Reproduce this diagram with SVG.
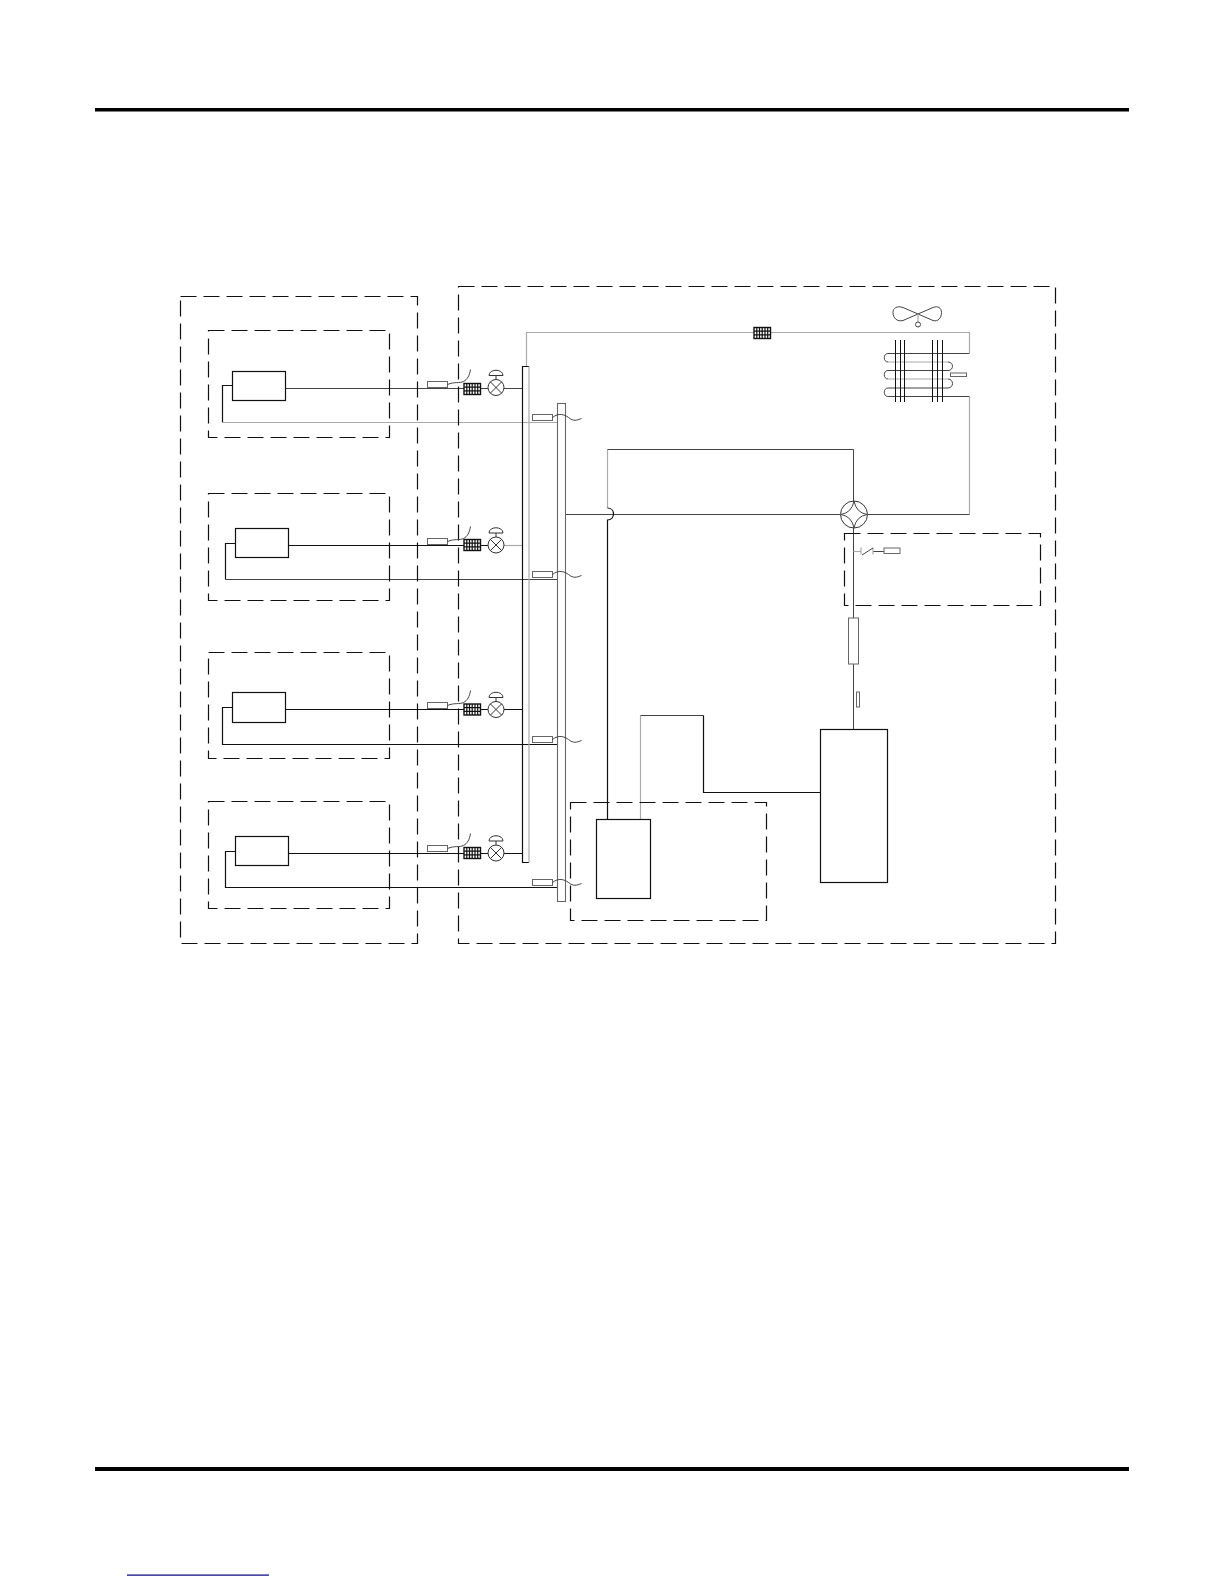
<svg xmlns="http://www.w3.org/2000/svg" width="1224" height="1584" viewBox="0 0 1224 1584">
<style>
.d{fill:none;stroke:#111;stroke-width:1.2;stroke-dasharray:16 7}
.b{fill:#fff;stroke:#111;stroke-width:1.2}
.l{fill:none;stroke:#444;stroke-width:1}
.k{fill:none;stroke:#111;stroke-width:1.2}
.g{fill:none;stroke:#aaa;stroke-width:1.2}
.s{fill:#fff;stroke:#666;stroke-width:1}
.f{fill:#fff;stroke:#111;stroke-width:1.4}
</style>
<defs>
<g id="filter">
<rect class="f" x="0" y="0" width="16.500" height="11"/>
<path d="M0 3.600H16.500M0 7.300H16.500M2.800 0V11M5.500 0V11M8.200 0V11M11 0V11M13.700 0V11" fill="none" stroke="#111" stroke-width="1.200"/>
</g>
<g id="valve">
<circle cx="0" cy="0" r="8" fill="#fff" stroke="#333" stroke-width="1"/>
<path d="M-5.700-5.700L5.700 5.700M-5.700 5.700L5.700-5.700M0-8V-12" fill="none" stroke="#333" stroke-width="1"/>
<path d="M-7-12H7C7-19-7-19-7-12Z" fill="#fff" stroke="#333" stroke-width="1"/>
</g>
<g id="tempA">
<rect class="s" x="0" y="0" width="20" height="6"/>
<path class="l" d="M20 3C27 0 32 2 36 0C40-2 42-6 43-12"/>
</g>
<g id="tempB">
<rect class="s" x="0" y="0" width="20" height="6"/>
<path class="l" d="M20 3C26-2 32 0 36 3C41 7 44 6 49 4"/>
</g>
</defs>

<rect id="top-rule" x="95" y="108" width="1034" height="3.500" fill="#000"/>
<rect id="bottom-rule" x="95" y="1467" width="1034" height="4" fill="#000"/>
<rect id="footer-link" x="127" y="1574.500" width="142" height="1.200" fill="#000080"/>

<g id="connectors">
<path class="l" d="M285.500 388.500H522.500"/>
<path class="k" d="M232.500 385.500H222.500V422.500"/>
<path class="g" d="M222.500 422.500H557.500"/>
<path class="k" d="M288.500 545.500H490"/>
<path class="g" d="M504 545.500H522.500"/>
<path class="k" d="M235.500 543.500H225.500V579.500"/>
<path class="l" d="M225.500 579.500H557.500"/>
<path class="k" d="M285.500 709.500H522.500"/>
<path class="k" d="M232.500 707.500H222.500V744.500H557.500"/>
<path class="k" d="M288.500 853.500H522.500"/>
<path class="k" d="M235.500 851.500H225.500V887.500H557.500"/>
<path class="g" d="M526.500 366V332.500H969.500V353"/>
<path class="l" d="M888 353.500H969.500"/>
<path class="l" d="M888 353.500C883 353.500 883 362 888 362"/>
<path class="g" d="M888 362H948"/>
<path class="l" d="M948 362C954 362 954 370.500 948 370.500H888C883 370.500 883 379 888 379"/>
<path class="g" d="M888 379H948"/>
<path class="l" d="M948 379C954 379 954 388 948 388H888C883 388 883 396.500 888 396.500H969.500"/>
<path class="g" d="M969.500 396.500V514.500"/>
<path class="l" d="M565.500 514.500H840.500M867.500 514.500H969.500"/>
<path class="g" d="M607.500 449.500V508"/>
<path class="l" d="M607.500 449.500H853.500V501"/>
<path class="k" d="M607.500 508C615.500 508 615.500 520 607.500 520V819.500"/>
<path class="l" d="M853.500 527V618M853.500 664V729.500"/>
<path class="g" d="M640.500 819.500V715.500"/>
<path class="l" d="M640.500 715.500H703.500"/>
<path class="k" d="M703.500 715.500V792.500H820.500"/>
<path class="g" d="M853.500 551.500H861"/>
<path class="l" d="M873 551.500H884"/>
</g>

<g id="indoor-outer"><rect class="d" x="180.500" y="296.500" width="237" height="647"/></g>
<g id="outdoor-outer"><rect class="d" x="458.500" y="286.500" width="597" height="657"/></g>
<g id="indoor-1-box"><rect class="d" x="208.500" y="330.500" width="181" height="107"/></g>
<g id="indoor-2-box"><rect class="d" x="208.500" y="493.500" width="181" height="107"/></g>
<g id="indoor-3-box"><rect class="d" x="208.500" y="652.500" width="181" height="106"/></g>
<g id="indoor-4-box"><rect class="d" x="208.500" y="801.500" width="181" height="107"/></g>
<g id="compressor-box"><rect class="d" x="570.500" y="802.500" width="196" height="118"/></g>
<g id="switch-box"><rect class="d" x="844.500" y="533.500" width="196" height="72"/></g>

<g id="indoor-1"><rect class="b" x="232.500" y="371.500" width="53" height="29"/></g>
<g id="indoor-2"><rect class="b" x="235.500" y="528.500" width="53" height="29"/></g>
<g id="indoor-3"><rect class="b" x="232.500" y="692.500" width="53" height="30"/></g>
<g id="indoor-4"><rect class="b" x="235.500" y="836.500" width="53" height="29"/></g>

<g id="header-liquid">
<path class="k" d="M529 862.500H522.500V366.500H529"/>
<path class="g" d="M529 366.500V862.500"/>
</g>
<g id="header-gas">
<rect x="557.500" y="403.500" width="8" height="498" fill="none" stroke="#666" stroke-width="1.100"/>
</g>

<g id="branch-1">
<use href="#tempA" x="427.500" y="381.500"/><use href="#filter" x="464" y="383.500"/><use href="#valve" x="496" y="387.500"/><use href="#tempB" x="532.500" y="414.500"/>
</g>
<g id="branch-2">
<use href="#tempA" x="427.500" y="538.500"/><use href="#filter" x="464" y="539.500"/><use href="#valve" x="496" y="545"/><use href="#tempB" x="532.500" y="571.500"/>
</g>
<g id="branch-3">
<use href="#tempA" x="427.500" y="702.500"/><use href="#filter" x="464" y="704"/><use href="#valve" x="496" y="709.500"/><use href="#tempB" x="532.500" y="736.500"/>
</g>
<g id="branch-4">
<use href="#tempA" x="427.500" y="845.500"/><use href="#filter" x="464" y="847.500"/><use href="#valve" x="496" y="853"/><use href="#tempB" x="532.500" y="879.500"/>
</g>

<g id="top-filter"><use href="#filter" x="754" y="327.500"/></g>
<g id="fan">
<path class="l" d="M918 314L903 307.500C897 305.500 893 308 893 312.500C893 318 897 322 903 320.500L933 307.500C938 305.500 941.500 308 941.500 312.500C941.500 318 938 322 933 320.500L918 314"/>
<path class="g" d="M918 314V322"/>
<circle class="l" cx="918" cy="324.500" r="2.500"/>
</g>
<g id="condenser">
<path d="M895.500 340V402M900.500 340V402M904.500 340V402M932.500 340V402M937.500 340V402M942.500 340V402" fill="none" stroke="#111" stroke-width="1"/>
<rect class="s" x="950.500" y="373" width="16" height="3.500"/>
</g>
<g id="four-way-valve">
<circle cx="854" cy="514.500" r="13.500" fill="#fff" stroke="#333" stroke-width="1"/>
<path class="l" d="M854 501Q856 512.500 867 514.500Q856 516.500 854 528Q852 516.500 841 514.500Q852 512.500 854 501Z"/>
</g>
<g id="pressure-switch">
<path class="g" d="M861 547.500V554.500M873 547.500V554.500"/>
<path class="l" d="M862 555L873 548"/>
<rect class="s" x="884" y="548" width="16" height="5.500"/>
</g>
<g id="muffler"><rect class="s" x="848.500" y="618" width="10" height="46"/></g>
<g id="discharge-sensor"><rect class="s" x="856.500" y="692" width="3" height="15"/></g>
<g id="compressor"><rect class="b" x="820.500" y="729.500" width="67" height="153"/></g>
<g id="accumulator"><rect class="b" x="596.500" y="819.500" width="54" height="79"/></g>
</svg>
